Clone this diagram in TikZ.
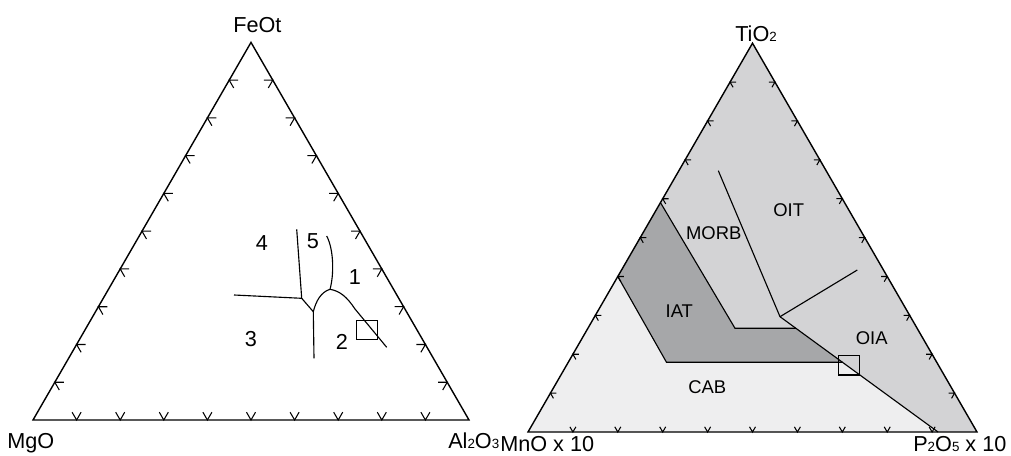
\documentclass[tikz,border=0pt]{standalone}
\usepackage{fontspec}
\setmainfont{Liberation Sans}
\usetikzlibrary{calc}
\definecolor{oceanic}{HTML}{D3D3D5}
\definecolor{arcth}{HTML}{A6A7A9}
\definecolor{calcalk}{HTML}{EEEEEF}
\newcommand{\ox}[1]{{\fontsize{9.5}{10}\selectfont #1}}

\begin{document}
\begin{tikzpicture}[x=0.025cm,y=0.025cm,
  edge/.style={line width=1pt,line join=miter},
  bound/.style={line width=0.8pt},
  tick/.style={line width=0.75pt},
  corner/.style={font=\fontsize{15.4}{17}\selectfont,inner sep=0pt,anchor=base west},
  field/.style={font=\fontsize{15.4}{17}\selectfont,inner sep=0pt},
  suite/.style={font=\fontsize{13.1}{15}\selectfont,inner sep=0pt}]
  \useasboundingbox (0,0) rectangle (1011,455);
  % left diagram: FeOt - MgO - Al2O3
  \coordinate (Fe) at (251,412.6);
  \coordinate (Mg) at (33,35);
  \coordinate (Al) at (469,35);
  \draw[edge] (Mg) -- (Fe) -- (Al) -- cycle;
  \foreach \i in {1,...,9} {
    \draw[tick] ($(Mg)!\i/10!(Al)$) +(60:9) -- +(0,0) -- +(120:9);
    \draw[tick] ($(Mg)!\i/10!(Fe)$) +(0:9) -- +(0,0) -- +(-60:9);
    \draw[tick] ($(Fe)!\i/10!(Al)$) +(180:9) -- +(0,0) -- +(240:9);
  }
  \coordinate (j1) at (301.7,156.7);
  \coordinate (j2) at (313.3,143.3);
  \coordinate (j3) at (330,165.7);
  \draw[bound] (234,160) -- (j1) -- (296.7,225.7);
  \draw[bound] (j1) -- (j2) -- (314,96.7);
  \draw[bound] (j2) .. controls (316,154) and (321,163) .. (j3);
  \draw[bound] (j3) .. controls (334,180) and (334,205) .. (326.7,219);
  \draw[bound] (j3) .. controls (340,164) and (347,158) .. (355,146) -- (386.7,107.7);
  \draw[edge] (356.7,115.7) rectangle (377.3,134.3);
  \node[corner] (feot) at (233,422) {FeOt};
  \node[corner] (mgo) at (7,7) {MgO};
  \node[corner] (alo) at (448,7) {Al\ox{2}O\ox{3}};
  \node[field] (f4) at (262,212) {4};
  \node[field] (f5) at (313,214) {5};
  \node[field] (f1) at (355,178) {1};
  \node[field] (f3) at (251,116) {3};
  \node[field] (f2) at (342,113) {2};

  % right diagram: TiO2 - MnO x 10 - P2O5 x 10
  \coordinate (Ti) at (752.5,411.8);
  \coordinate (Mn) at (528,23);
  \coordinate (Ph) at (977,23);
  \coordinate (a) at ($(Mn)!0.59!(Ti)$);
  \coordinate (b) at (735,126.7);
  \coordinate (e) at (666.5,92.7);
  \coordinate (f) at ($(Mn)!0.4!(Ti)$);
  \coordinate (g) at (718.3,284.3);
  \coordinate (h) at (780,138.3);
  \coordinate (k) at (938,23);
  \coordinate (m) at (857.3,185);
  \coordinate (c) at (intersection of h--k and 0,126.7--1000,126.7);
  \coordinate (d) at (intersection of h--k and 0,92.7--1000,92.7);
  \fill[oceanic] (Mn) -- (Ti) -- (Ph) -- cycle;
  \fill[calcalk] (Mn) -- (f) -- (e) -- (d) -- (k) -- cycle;
  \fill[arcth] (a) -- (b) -- (c) -- (d) -- (e) -- (f) -- cycle;
  \draw[bound] (a) -- (b) -- (c);
  \draw[bound] (f) -- (e) -- (d);
  \draw[bound] (g) -- (h) -- (k);
  \draw[bound] (h) -- (m);
  \draw[edge] (Mn) -- (Ti) -- (Ph) -- cycle;
  \foreach \i in {1,...,9} {
    \draw[tick] ($(Mn)!\i/10!(Ph)$) +(60:6) -- +(0,0) -- +(120:6);
    \draw[tick] ($(Mn)!\i/10!(Ti)$) +(0:6) -- +(0,0) -- +(-60:6);
    \draw[tick] ($(Ti)!\i/10!(Ph)$) +(180:6) -- +(0,0) -- +(240:6);
  }
  \draw[edge] (838.3,80) rectangle (859.3,99.3);
  \node[corner] (tio) at (735,413) {TiO\ox{2}};
  \node[corner] (mno) at (500,4) {MnO x 10};
  \node[corner] (pho) at (913,4) {P\ox{2}O\ox{5} x 10};
  \node[suite] (oit) at (788.7,245) {OIT};
  \node[suite] (morb) at (713.7,221.7) {MORB};
  \node[suite] (iat) at (679.3,144.3) {IAT};
  \node[suite] (oia) at (871.7,116.7) {OIA};
  \node[suite] (cab) at (707.3,68.3) {CAB};
\end{tikzpicture}
\end{document}
